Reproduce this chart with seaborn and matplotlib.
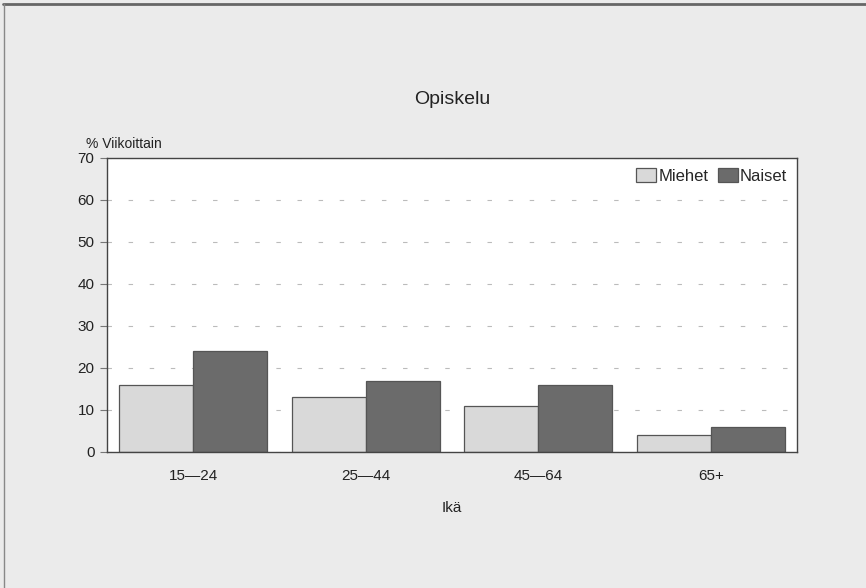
import pandas as pd
import matplotlib
matplotlib.use('Agg')
import matplotlib.pyplot as plt
from matplotlib.lines import Line2D
import seaborn as sns

# Data
ages = ['15—24', '25—44', '45—64', '65+']
miehet = [16, 13, 11, 4]
naiset = [24, 17, 16, 6]
groups = ['Miehet', 'Naiset']
colors = ['#d9d9d9', '#6b6b6b']

df = pd.DataFrame({
    'ika': ages * 2,
    'arvo': miehet + naiset,
    'sukupuoli': [groups[0]] * len(ages) + [groups[1]] * len(ages),
})

sns.set_style('white')
plt.rcParams['font.family'] = ['Liberation Sans', 'DejaVu Sans']

fig = plt.figure(figsize=(8.66, 5.88), dpi=100, facecolor='#ebebeb')
ax = fig.add_axes([0.1236, 0.2313, 0.7968, 0.5000])
ax.set_facecolor('white')

sns.barplot(data=df, x='ika', y='arvo', hue='sukupuoli', palette=colors,
            width=0.86, gap=0, edgecolor='#555555', linewidth=0.9, ax=ax)

ax.set_ylim(0, 70)
ax.set_yticks(range(0, 71, 10))
ax.set_xlim(-0.5, 3.5)
ax.yaxis.grid(True, linestyle=(0, (4, 15)), color='#bbbbbb', linewidth=0.8)
ax.set_axisbelow(True)
for s in ax.spines.values():
    s.set_color('#444444')
    s.set_linewidth(1.0)
ax.tick_params(axis='y', left=True, length=5, width=0.8, color='#777777',
               labelsize=11, labelcolor='#222222', pad=4)
ax.tick_params(axis='x', bottom=False, labelsize=11, labelcolor='#222222', pad=9)

ax.set_xlabel('Ikä', fontsize=11, color='#222222', labelpad=13)
ax.set_ylabel('')
ax.set_title('Opiskelu', fontsize=14, color='#222222', pad=39)
ax.text(-0.03, 1.025, '% Viikoittain', transform=ax.transAxes, fontsize=10,
        color='#222222', ha='left', va='bottom')

leg = ax.legend(loc='upper right', frameon=False, fontsize=12, handlelength=1.2,
                handleheight=0.9, handletextpad=0.1, columnspacing=0.6, ncol=2,
                borderaxespad=0.2)

# outer frame lines (top and left)
fig.add_artist(Line2D([0.004, 1], [0.993, 0.993], transform=fig.transFigure,
                      color='#666666', linewidth=2))
fig.add_artist(Line2D([0.005, 0.005], [0, 0.993], transform=fig.transFigure,
                      color='#888888', linewidth=1))

fig.savefig('out.png', dpi=100, facecolor=fig.get_facecolor())
